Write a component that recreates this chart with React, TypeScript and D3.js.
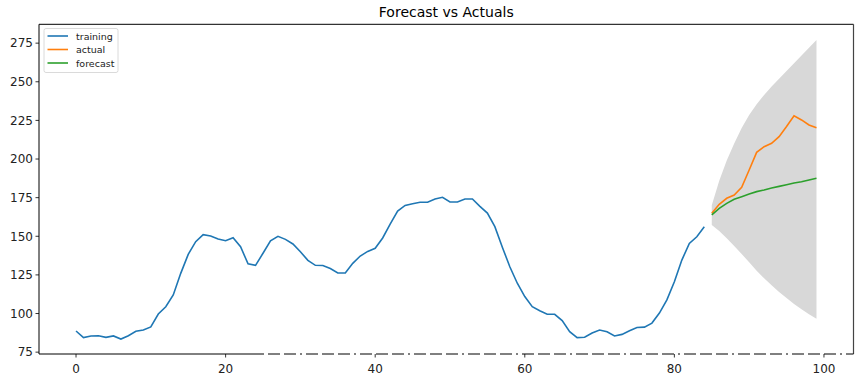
import React from "react";
import * as d3 from "d3";

const trainingValues: number[] = [
  88.7, 84.4, 85.5, 85.6, 84.6, 85.5, 83.5, 85.6, 88.5, 89.3,
  91.3, 99.7, 104.4, 112, 126, 138.3, 146.5, 151, 150.2, 148.2,
  147.1, 149.1, 143.2, 132.2, 131.2, 139, 147.1, 150, 148, 145,
  140, 134.4, 131.2, 131.1, 129.1, 126.2, 126.2, 132.5, 137.2, 140.2,
  142.2, 148.9, 157.9, 166.3, 170, 171.1, 172, 172, 174.1, 175.2,
  172.2, 172.2, 174.1, 174.1, 169.4, 165, 156.2, 142.9, 130.3, 119.6,
  111, 104.4, 101.8, 99.5, 99.5, 95.4, 88.2, 84.4, 84.6, 87.4,
  89.3, 88.2, 85.5, 86.5, 88.9, 91, 91.2, 93.8, 100.3, 108.8,
  120.6, 134.6, 145.4, 149.7, 156.1,
];
const testStart = 85;
const actualValues: number[] = [
  164.9, 170.7, 174.6, 176.7, 181.7, 192.9, 204.3, 208, 210.2, 214.5,
  221, 228, 225.3, 222, 220.3,
];
const forecastValues: number[] = [
  163.8, 168.1, 171.3, 173.9, 175.6, 177.4, 178.9, 180, 181.3, 182.3,
  183.4, 184.5, 185.3, 186.4, 187.5,
];
const upperValues: number[] = [
  170, 186, 199, 210, 220, 228.5, 235.5, 241.5, 247, 252,
  257, 262, 267, 272, 277,
];
const lowerValues: number[] = [
  157.3, 153.4, 148.7, 143.7, 138.5, 133.2, 127.7, 122.8, 118.3, 113.9,
  110, 106.2, 102.7, 99.5, 96.6,
];
const xTicks: number[] = [0, 20, 40, 60, 80, 100];
const yTicks: number[] = [75, 100, 125, 150, 175, 200, 225, 250, 275];
const legendLabels: string[] = ["training", "actual", "forecast"];

const W = 862;
const H = 379;
const L = 39;
const R = 853.5;
const T = 24.3;
const B = 354;
const FONT = "DejaVu Sans, sans-serif";
const C_BLUE = "#1f77b4";
const C_ORANGE = "#ff7f0e";
const C_GREEN = "#2ca02c";

export default function App() {
  const x = d3.scaleLinear().domain([-4.95, 103.95]).range([L, R]);
  const y = d3.scaleLinear().domain([73.8, 287.2]).range([B, T]);

  const line = d3
    .line<[number, number]>()
    .x((d) => x(d[0]))
    .y((d) => y(d[1]));

  const train: [number, number][] = trainingValues.map((v, i) => [i, v]);
  const actual: [number, number][] = actualValues.map((v, i) => [testStart + i, v]);
  const fc: [number, number][] = forecastValues.map((v, i) => [testStart + i, v]);
  const band = upperValues.map((u, i) => ({ i: testStart + i, u, l: lowerValues[i] }));
  const area = d3
    .area<{ i: number; u: number; l: number }>()
    .x((d) => x(d.i))
    .y0((d) => y(d.l))
    .y1((d) => y(d.u));

  const legendColors = [C_BLUE, C_ORANGE, C_GREEN];
  const solidEnd = 252;

  return (
    <svg width={W} height={H} style={{ position: "absolute", left: 0, top: 0 }}>
      <rect x={0} y={0} width={W} height={H} fill="#fff" />
      <text x={(L + R) / 2} y={17} textAnchor="middle" fontFamily={FONT} fontSize={14} fill="#000">
        Forecast vs Actuals
      </text>
      <path d={area(band) || ""} fill="#d8d8d8" />
      <path d={line(train) || ""} fill="none" stroke={C_BLUE} strokeWidth={1.6} />
      <path d={line(actual) || ""} fill="none" stroke={C_ORANGE} strokeWidth={1.6} />
      <path d={line(fc) || ""} fill="none" stroke={C_GREEN} strokeWidth={1.6} />

      {/* spines */}
      <line x1={L} y1={T} x2={R} y2={T} stroke="#000" strokeWidth={1} />
      <line x1={L} y1={T} x2={L} y2={B} stroke="#000" strokeWidth={1} />
      <line x1={R} y1={T} x2={R} y2={B} stroke="#444" strokeWidth={1.2} />
      <line x1={L} y1={B} x2={solidEnd} y2={B} stroke="#000" strokeWidth={1} />
      <line x1={solidEnd} y1={B} x2={R} y2={B} stroke="#000" strokeWidth={1} strokeDasharray="12,4,12,4,12,4,2,4" />

      {xTicks.map((t) => (
        <g key={"x" + t}>
          <line x1={x(t)} y1={B} x2={x(t)} y2={B + 3.5} stroke="#000" strokeWidth={0.8} />
          <text x={x(t)} y={373} textAnchor="middle" fontFamily={FONT} fontSize={12} fill="#222">
            {t}
          </text>
        </g>
      ))}
      {yTicks.map((t) => (
        <g key={"y" + t}>
          <line x1={L - 3.5} y1={y(t)} x2={L} y2={y(t)} stroke="#000" strokeWidth={0.8} />
          <text x={L - 6} y={y(t) + 4.3} textAnchor="end" fontFamily={FONT} fontSize={12} fill="#222">
            {t}
          </text>
        </g>
      ))}

      <g>
        <rect x={44} y={28.5} width={74} height={44} rx={2} fill="#fff" fillOpacity={0.8} stroke="#d0d0d0" strokeWidth={0.8} />
        {legendLabels.map((lab, k) => (
          <g key={lab}>
            <line x1={47.5} x2={68} y1={36 + k * 13.5} y2={36 + k * 13.5} stroke={legendColors[k]} strokeWidth={1.6} />
            <text x={76} y={39.5 + k * 13.5} fontFamily={FONT} fontSize={9.5} fill="#222">
              {lab}
            </text>
          </g>
        ))}
      </g>
    </svg>
  );
}
